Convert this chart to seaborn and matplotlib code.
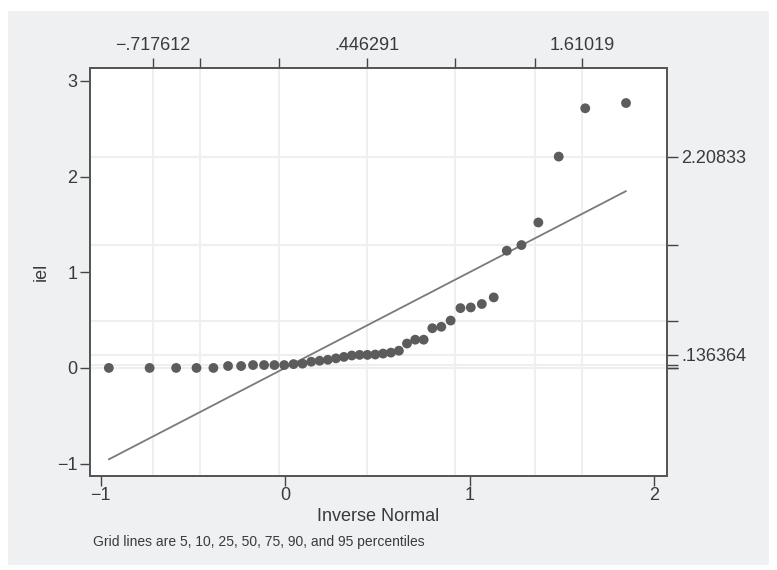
import numpy as np
import pandas as pd
import seaborn as sns
import matplotlib.pyplot as plt
from matplotlib.patches import Rectangle
from statistics import NormalDist

# ---- data (sorted values of iel, n = 41) ----
iel = [0, 0, 0, 0, 0, 0.02, 0.02, 0.03, 0.03, 0.03, 0.03, 0.04, 0.045,
       0.065, 0.075, 0.085, 0.10, 0.115, 0.13, 0.136364, 0.136364, 0.14,
       0.15, 0.16, 0.18, 0.255, 0.295, 0.295, 0.415, 0.43, 0.495, 0.625,
       0.632, 0.668, 0.737, 1.225, 1.284, 1.52, 2.20833, 2.713, 2.768]

# normal percentiles printed on the top axis (5th, 50th, 95th)
top_labels = ['\u2212.717612', '.446291', '1.61019']
top_values = [-0.717612, 0.446291, 1.61019]

# data percentiles shown on the right axis (5,10,25,50,75,90,95)
right_values = [0, 0, 0.03, 0.136364, 0.495, 1.284, 2.20833]
right_labels = ['', '', '', '.136364', '', '', '2.20833']

pctl = [5, 10, 25, 50, 75, 90, 95]
x_ticks = [-1, 0, 1, 2]
y_ticks = [-1, 0, 1, 2, 3]

# ---- inverse normal positions (qnorm) ----
mean = top_values[1]
sd = (top_values[2] - top_values[1]) / NormalDist().inv_cdf(0.95)
nd = NormalDist(mean, sd)
n = len(iel)
df = pd.DataFrame({'inv': [nd.inv_cdf(i / (n + 1)) for i in range(1, n + 1)],
                   'iel': iel})
x_pct = [nd.inv_cdf(p / 100) for p in pctl]
line_df = pd.DataFrame({'x': [df['inv'].iloc[0], df['inv'].iloc[-1]]})
line_df['y'] = line_df['x']

# ---- figure ----
sns.set_style('white')
plt.rcParams['font.family'] = ['Liberation Sans', 'DejaVu Sans']
W, H = 777, 570
fig = plt.figure(figsize=(W / 100, H / 100), dpi=100)
fig.patch.set_facecolor('white')
fig.add_artist(Rectangle((8 / W, 1 - 565 / H), 761 / W, 554 / H,
                         transform=fig.transFigure, facecolor='#eff0f2',
                         edgecolor='none', zorder=-10))

left, right, top, bottom = 89.7, 667, 68, 475.5
ax = fig.add_axes([left / W, 1 - bottom / H, (right - left) / W, (bottom - top) / H])
ax.set_facecolor('white')

txt = '#3a3a3a'
grid_c = '#efefef'
for xv in x_pct:
    ax.axvline(xv, color=grid_c, lw=1.5, zorder=0)
for yv in right_values:
    ax.axhline(yv, color=grid_c, lw=1.5, zorder=0)

sns.lineplot(data=line_df, x='x', y='y', ax=ax, color='#7a7a7a', lw=1.3, zorder=2)
sns.scatterplot(data=df, x='inv', y='iel', ax=ax, color='#5c5c5c', s=50,
                edgecolor='none', zorder=3)

xlim = (-1.059, 2.070)
ylim = (-1.124, 3.134)
ax.set_xlim(xlim)
ax.set_ylim(ylim)
ax.set_xticks(x_ticks)
ax.set_xticklabels([str(v).replace('-', '\u2212') for v in x_ticks])
ax.set_yticks(y_ticks)
ax.set_yticklabels([str(v).replace('-', '\u2212') for v in y_ticks])
ax.tick_params(axis='both', direction='out', length=7, width=1, color='#444444',
               labelsize=13, labelcolor=txt, pad=2)
ax.tick_params(axis='x', pad=1)
ax.set_xlabel('Inverse Normal', fontsize=13, color=txt, labelpad=3)
ax.set_ylabel('iel', fontsize=13, color=txt, labelpad=5)
for s in ax.spines.values():
    s.set_color('#555555')
    s.set_linewidth(1.1)

# top axis: normal percentiles
lab_map = dict(zip([5, 50, 95], top_labels))
axt = ax.twiny()
axt.set_xlim(xlim)
axt.set_xticks(x_pct)
axt.set_xticklabels([lab_map.get(p, '') for p in pctl])
axt.tick_params(axis='x', direction='out', length=7, width=1, color='#444444',
                labelsize=13, labelcolor=txt, pad=3)

# right axis: data percentiles
axr = ax.twinx()
axr.set_ylim(ylim)
axr.set_yticks(right_values)
axr.set_yticklabels(right_labels)
axr.tick_params(axis='y', direction='out', length=8, width=1, color='#444444',
                labelsize=13, labelcolor=txt, pad=2)
for a in (axt, axr):
    for s in a.spines.values():
        s.set_color('#555555')
        s.set_linewidth(1.1)

fig.text(93 / W, 1 - 542 / H, 'Grid lines are 5, 10, 25, 50, 75, 90, and 95 percentiles',
         fontsize=10, color=txt, va='center', ha='left')

fig.savefig('out.png', dpi=100)
